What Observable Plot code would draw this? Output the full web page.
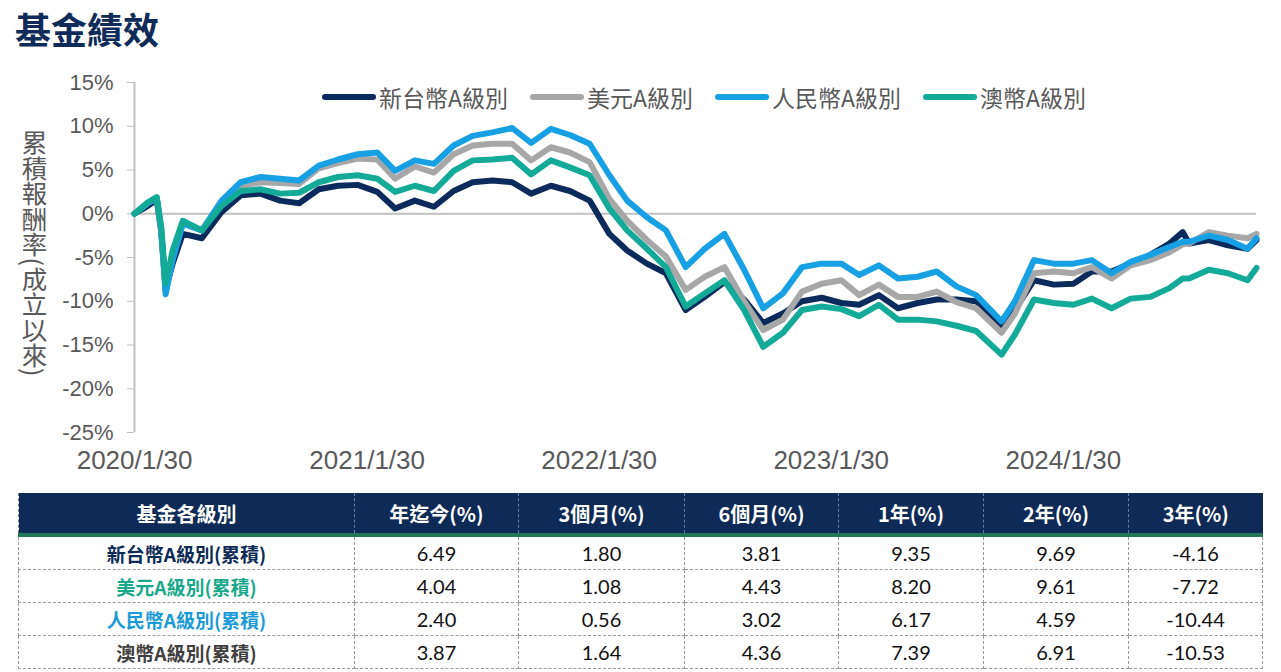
<!DOCTYPE html>
<html><head><meta charset="utf-8">
<script src="https://cdn.jsdelivr.net/npm/d3@7"></script>
<script src="https://cdn.jsdelivr.net/npm/@observablehq/plot@0.6"></script>
<style>
body{margin:0;background:#fff;width:1281px;height:672px;position:relative;overflow:hidden;font-family:"Liberation Sans","Noto Sans CJK TC",sans-serif;}
#title{position:absolute;left:15px;top:6px;font-family:"Noto Sans CJK TC",sans-serif;font-weight:700;font-size:36px;color:#0e2b5a;line-height:44px;}
#chart{position:absolute;left:0;top:60px;z-index:1;}
#ylab{position:absolute;left:21px;top:130px;z-index:2;writing-mode:vertical-rl;font-family:"Noto Sans CJK TC",sans-serif;font-size:25.5px;color:#595959;line-height:27px;}
#legend{position:absolute;left:322px;top:80px;z-index:2;display:flex;gap:22px;align-items:center;font-family:"Noto Sans CJK TC",sans-serif;font-size:23px;color:#595959;}
#legend .it{display:flex;align-items:center;gap:3px;}
#legend .sw{display:inline-block;width:54px;height:6px;border-radius:3px;}
#tbl{position:absolute;left:18px;top:493px;border-collapse:collapse;table-layout:fixed;width:1244px;}
#tbl th{background:#0e2a56;color:#fff;font-family:"Noto Sans CJK TC",sans-serif;font-weight:700;font-size:20px;height:40px;padding:0;border-left:1px dashed #6b7d99;border-bottom:4px solid #217755;}
#tbl td{height:32px;padding:0;text-align:center;border:1px dashed #9a9a9a;font-family:"Lato","Noto Sans CJK TC",sans-serif;font-size:20px;color:#111;}
#tbl td.lab{font-family:"Noto Sans CJK TC",sans-serif;font-weight:700;font-size:19px;}
</style></head>
<body>
<div id="title">基金績效</div>
<div id="chart"></div>
<div id="ylab">累積報酬率(成立以來)</div>
<div id="legend"></div>
<table id="tbl"></table>
<script>
// ---- data ----
const seriesNames = ["新台幣A級別","美元A級別","人民幣A級別","澳幣A級別"];
const seriesColors = ["#0b2b5c","#a7a7a7","#17a0e4","#13ab98"];
const dates = ["2020-01-30","2020-02-20","2020-03-05","2020-03-12","2020-03-19","2020-03-30","2020-04-15","2020-05-15","2020-06-15","2020-07-15","2020-08-15","2020-09-15","2020-10-15","2020-11-15","2020-12-15",
"2021-01-15","2021-02-15","2021-03-15","2021-04-15","2021-05-15","2021-06-15","2021-07-15","2021-08-15","2021-09-15","2021-10-15","2021-11-15","2021-12-15",
"2022-01-15","2022-02-15","2022-03-15","2022-04-15","2022-05-15","2022-06-15","2022-07-15","2022-08-15","2022-09-15","2022-10-15","2022-11-15","2022-12-15",
"2023-01-15","2023-02-15","2023-03-15","2023-04-15","2023-05-15","2023-06-15","2023-07-15","2023-08-15","2023-09-15","2023-10-25","2023-11-15","2023-12-15",
"2024-01-15","2024-02-15","2024-03-15","2024-04-15","2024-05-15","2024-06-15","2024-07-15","2024-08-05","2024-08-15","2024-09-15","2024-10-15","2024-11-15","2024-11-29"];
const twd = [0,0.9,1.6,-2.0,-8.6,-5.7,-2.3,-2.8,0.2,2.1,2.3,1.5,1.2,2.8,3.2,
3.3,2.5,0.6,1.5,0.8,2.6,3.6,3.8,3.6,2.3,3.2,2.6,
1.5,-2.3,-4.2,-5.7,-6.8,-11.0,-9.5,-7.8,-9.8,-12.5,-11.4,-10.0,
-9.6,-10.2,-10.4,-9.3,-10.8,-10.2,-9.8,-9.8,-10.0,-12.9,-11.0,-7.6,
-8.1,-8.0,-6.6,-6.6,-5.7,-4.7,-3.4,-2.1,-3.4,-3.0,-3.6,-4.0,-3.0];
const usd = [0,1.2,1.8,-1.8,-8.9,-5.0,-1.1,-1.9,1.2,3.2,3.6,3.5,3.4,5.2,5.8,
6.3,6.2,4.0,5.4,4.7,6.8,7.8,8.0,8.0,6.1,7.6,7.0,
5.9,1.7,-0.8,-3.0,-4.9,-8.7,-7.2,-6.1,-10.0,-13.3,-12.1,-8.9,
-8.0,-7.6,-9.3,-8.1,-9.5,-9.5,-8.9,-10.1,-10.8,-13.6,-11.4,-6.8,
-6.6,-6.8,-6.1,-7.4,-5.9,-5.3,-4.4,-3.5,-3.4,-2.1,-2.5,-2.8,-2.3];
const cny = [0,1.2,1.8,-1.8,-9.2,-5.3,-1.1,-1.9,1.5,3.6,4.2,4.0,3.8,5.5,6.2,
6.8,7.0,4.9,6.1,5.7,7.8,8.9,9.3,9.8,8.1,9.7,9.0,
8.0,4.4,1.5,-0.4,-1.9,-6.1,-4.0,-2.3,-6.4,-10.8,-9.1,-6.1,
-5.7,-5.7,-7.0,-5.9,-7.4,-7.2,-6.6,-8.3,-9.3,-12.3,-10.0,-5.3,
-5.7,-5.7,-5.3,-6.8,-5.5,-4.7,-3.8,-3.2,-3.2,-2.5,-3.0,-4.0,-2.8];
const aud = [0,1.3,1.9,-1.5,-8.0,-4.2,-0.8,-1.9,0.9,2.6,2.8,2.3,2.4,3.6,4.2,
4.4,4.0,2.5,3.2,2.6,4.9,6.1,6.2,6.4,4.5,6.1,5.3,
4.4,0.6,-1.9,-4.0,-6.1,-10.6,-9.1,-7.6,-11.0,-15.2,-13.6,-11.0,
-10.6,-10.9,-11.7,-10.4,-12.1,-12.1,-12.3,-12.8,-13.4,-16.1,-13.8,-9.8,
-10.2,-10.4,-9.7,-10.8,-9.7,-9.5,-8.5,-7.4,-7.4,-6.4,-6.8,-7.6,-6.2];
const yTicks = [-25,-20,-15,-10,-5,0,5,10,15];
const xTickDates = ["2020-01-30","2021-01-30","2022-01-30","2023-01-30","2024-01-30"];
const xTickLabels = ["2020/1/30","2021/1/30","2022/1/30","2023/1/30","2024/1/30"];
// table
const tableHeaders = ["基金各級別","年迄今(%)","3個月(%)","6個月(%)","1年(%)","2年(%)","3年(%)"];
const rowLabels = ["新台幣A級別(累積)","美元A級別(累積)","人民幣A級別(累積)","澳幣A級別(累積)"];
const rowLabelColors = ["#0e2a56","#19a98a","#1a9bd8","#404040"];
const ytd = ["6.49","4.04","2.40","3.87"];
const m3 = ["1.80","1.08","0.56","1.64"];
const m6 = ["3.81","4.43","3.02","4.36"];
const y1 = ["9.35","8.20","6.17","7.39"];
const y2 = ["9.69","9.61","4.59","6.91"];
const y3 = ["-4.16","-7.72","-10.44","-10.53"];
const colWidths = [336,164,166,154,145,145,134];

// ---- chart ----
const allSeries = [twd, usd, cny, aud];
const parse = s => new Date(s + "T00:00:00Z");
const lineMarks = allSeries.map((arr, k) =>
  Plot.line(dates.map((d, i) => ({date: parse(d), value: arr[i]})),
    {x: "date", y: "value", stroke: seriesColors[k], strokeWidth: 6, strokeLinejoin: "round", strokeLinecap: "round"}));
const x0 = parse(dates[0]), x1 = parse(dates[dates.length - 1]);
const chart = Plot.plot({
  width: 1281, height: 423,
  marginLeft: 134, marginRight: 25, marginTop: 22, marginBottom: 51,
  x: {type: "utc", domain: [x0, x1]},
  y: {domain: [-25, 15]},
  style: {fontFamily: "'Liberation Sans','Noto Sans CJK TC',sans-serif", color: "#595959", background: "transparent"},
  marks: [
    Plot.ruleY([0], {stroke: "#c0c0c0", strokeWidth: 2}),
    Plot.ruleX([x0], {y1: -25, y2: 15, stroke: "#c0c0c0", strokeWidth: 2}),
    Plot.axisY({ticks: yTicks, tickFormat: d => d + "%", tickSize: 7, tickPadding: 14, fontSize: 22, stroke: "#c0c0c0", fill: "#595959", label: null}),
    Plot.axisX({ticks: xTickDates.map(parse), tickFormat: (d, i) => xTickLabels[i], tickSize: 0, tickPadding: 18, fontSize: 26, fill: "#595959", label: null}),
    ...lineMarks
  ]
});
document.getElementById("chart").appendChild(chart);

// legend
const lg = document.getElementById("legend");
seriesNames.forEach((n, k) => {
  const it = document.createElement("div"); it.className = "it";
  const sw = document.createElement("span"); sw.className = "sw"; sw.style.background = seriesColors[k];
  const tx = document.createElement("span"); tx.textContent = n;
  it.appendChild(sw); it.appendChild(tx); lg.appendChild(it);
});

// table
const tbl = document.getElementById("tbl");
const cg = document.createElement("colgroup");
colWidths.forEach(w => { const c = document.createElement("col"); c.style.width = w + "px"; cg.appendChild(c); });
tbl.appendChild(cg);
const hr = document.createElement("tr");
tableHeaders.forEach(h => { const th = document.createElement("th"); th.textContent = h; hr.appendChild(th); });
tbl.appendChild(hr);
const cols = [ytd, m3, m6, y1, y2, y3];
rowLabels.forEach((lab, r) => {
  const tr = document.createElement("tr");
  const td0 = document.createElement("td"); td0.className = "lab"; td0.textContent = lab; td0.style.color = rowLabelColors[r];
  tr.appendChild(td0);
  cols.forEach(c => { const td = document.createElement("td"); td.textContent = c[r]; tr.appendChild(td); });
  tbl.appendChild(tr);
});
</script>
</body></html>
